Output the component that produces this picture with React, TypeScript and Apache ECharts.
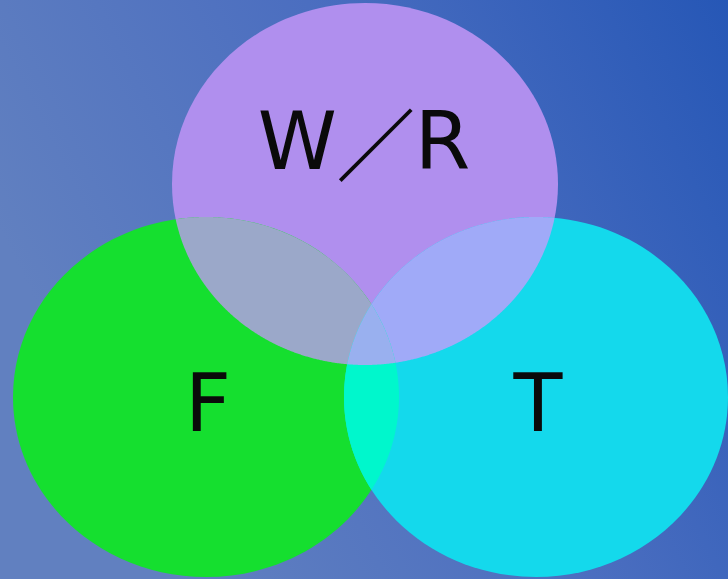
import React, { useEffect, useRef } from "react";
import * as echarts from "echarts";

// Set labels and colours
const SET_LABELS = ["{a|W}{s|／}{a|R}", "{a|F}", "{a|T}"];
const SET_COLORS = ["#b08fee", "#15df2f", "#14d9ec"];
// Overlap colours: [W/R∩F, W/R∩T, F∩T]
const PAIR_COLORS = ["#9ba8c9", "#a0aaf8", "#00f7cc"];
const TRIPLE_COLOR = "#99b0ef";

// Layout (ellipse geometry)
const ELLIPSES = [
  { cx: 365, cy: 184, rx: 193, ry: 181 },
  { cx: 206, cy: 397, rx: 193, ry: 180 },
  { cx: 536, cy: 397, rx: 192, ry: 180 },
];
const LABEL_POS = [
  { x: 364, y: 141 },
  { x: 208, y: 403 },
  { x: 538, y: 403 },
];

type E = { cx: number; cy: number; rx: number; ry: number };

function inside(e: E, x: number, y: number) {
  const dx = (x - e.cx) / e.rx;
  const dy = (y - e.cy) / e.ry;
  return dx * dx + dy * dy <= 1.000001;
}

function intersection(list: E[]): number[][] {
  const pts: number[][] = [];
  const N = 1440;
  list.forEach((e, idx) => {
    for (let i = 0; i < N; i++) {
      const t = (i / N) * Math.PI * 2;
      const x = e.cx + e.rx * Math.cos(t);
      const y = e.cy + e.ry * Math.sin(t);
      if (list.every((o, j) => j === idx || inside(o, x, y))) pts.push([x, y]);
    }
  });
  if (!pts.length) return pts;
  const mx = pts.reduce((s, p) => s + p[0], 0) / pts.length;
  const my = pts.reduce((s, p) => s + p[1], 0) / pts.length;
  pts.sort((a, b) => Math.atan2(a[1] - my, a[0] - mx) - Math.atan2(b[1] - my, b[0] - mx));
  return pts;
}

export default function App() {
  const ref = useRef<HTMLDivElement>(null);
  useEffect(() => {
    if (!ref.current) return;
    const chart = echarts.init(ref.current, undefined, { renderer: "svg" });
    const elements: any[] = [];
    elements.push({
      type: "rect",
      shape: { x: 0, y: 0, width: 728, height: 579 },
      style: {
        fill: new echarts.graphic.LinearGradient(0, 0.4, 1, 0, [
          { offset: 0, color: "#6180c0" },
          { offset: 0.5, color: "#4b6ec0" },
          { offset: 1, color: "#2657b6" },
        ]),
      },
      silent: true,
    });
    ELLIPSES.forEach((e, i) => {
      elements.push({
        type: "ellipse",
        shape: { cx: e.cx, cy: e.cy, rx: e.rx, ry: e.ry },
        style: { fill: SET_COLORS[i] },
      });
    });
    const pairs = [
      [0, 1],
      [0, 2],
      [1, 2],
    ];
    pairs.forEach((p, i) => {
      elements.push({
        type: "polygon",
        shape: { points: intersection([ELLIPSES[p[0]], ELLIPSES[p[1]]]) },
        style: { fill: PAIR_COLORS[i] },
      });
    });
    elements.push({
      type: "polygon",
      shape: { points: intersection(ELLIPSES) },
      style: { fill: TRIPLE_COLOR },
    });
    SET_LABELS.forEach((label, i) => {
      elements.push({
        type: "text",
        x: LABEL_POS[i].x,
        y: LABEL_POS[i].y,
        style: {
          text: label,
          fill: "#0a0a0a",
          align: "center",
          verticalAlign: "middle",
          rich: {
            a: {
              fontSize: 80,
              fontFamily: "DejaVu Sans",
              fill: "#0a0a0a",
              lineHeight: 92,
            },
            s: {
              fontSize: 78,
              fontWeight: "bold",
              fontFamily: "Noto Sans CJK SC",
              fill: "#0a0a0a",
              lineHeight: 92,
            },
          },
        },
      });
    });
    chart.setOption({ animation: false, graphic: { elements } });
    return () => chart.dispose();
  }, []);
  return (
    <div
      ref={ref}
      style={{ position: "fixed", left: 0, top: 0, width: 728, height: 579 }}
    />
  );
}
